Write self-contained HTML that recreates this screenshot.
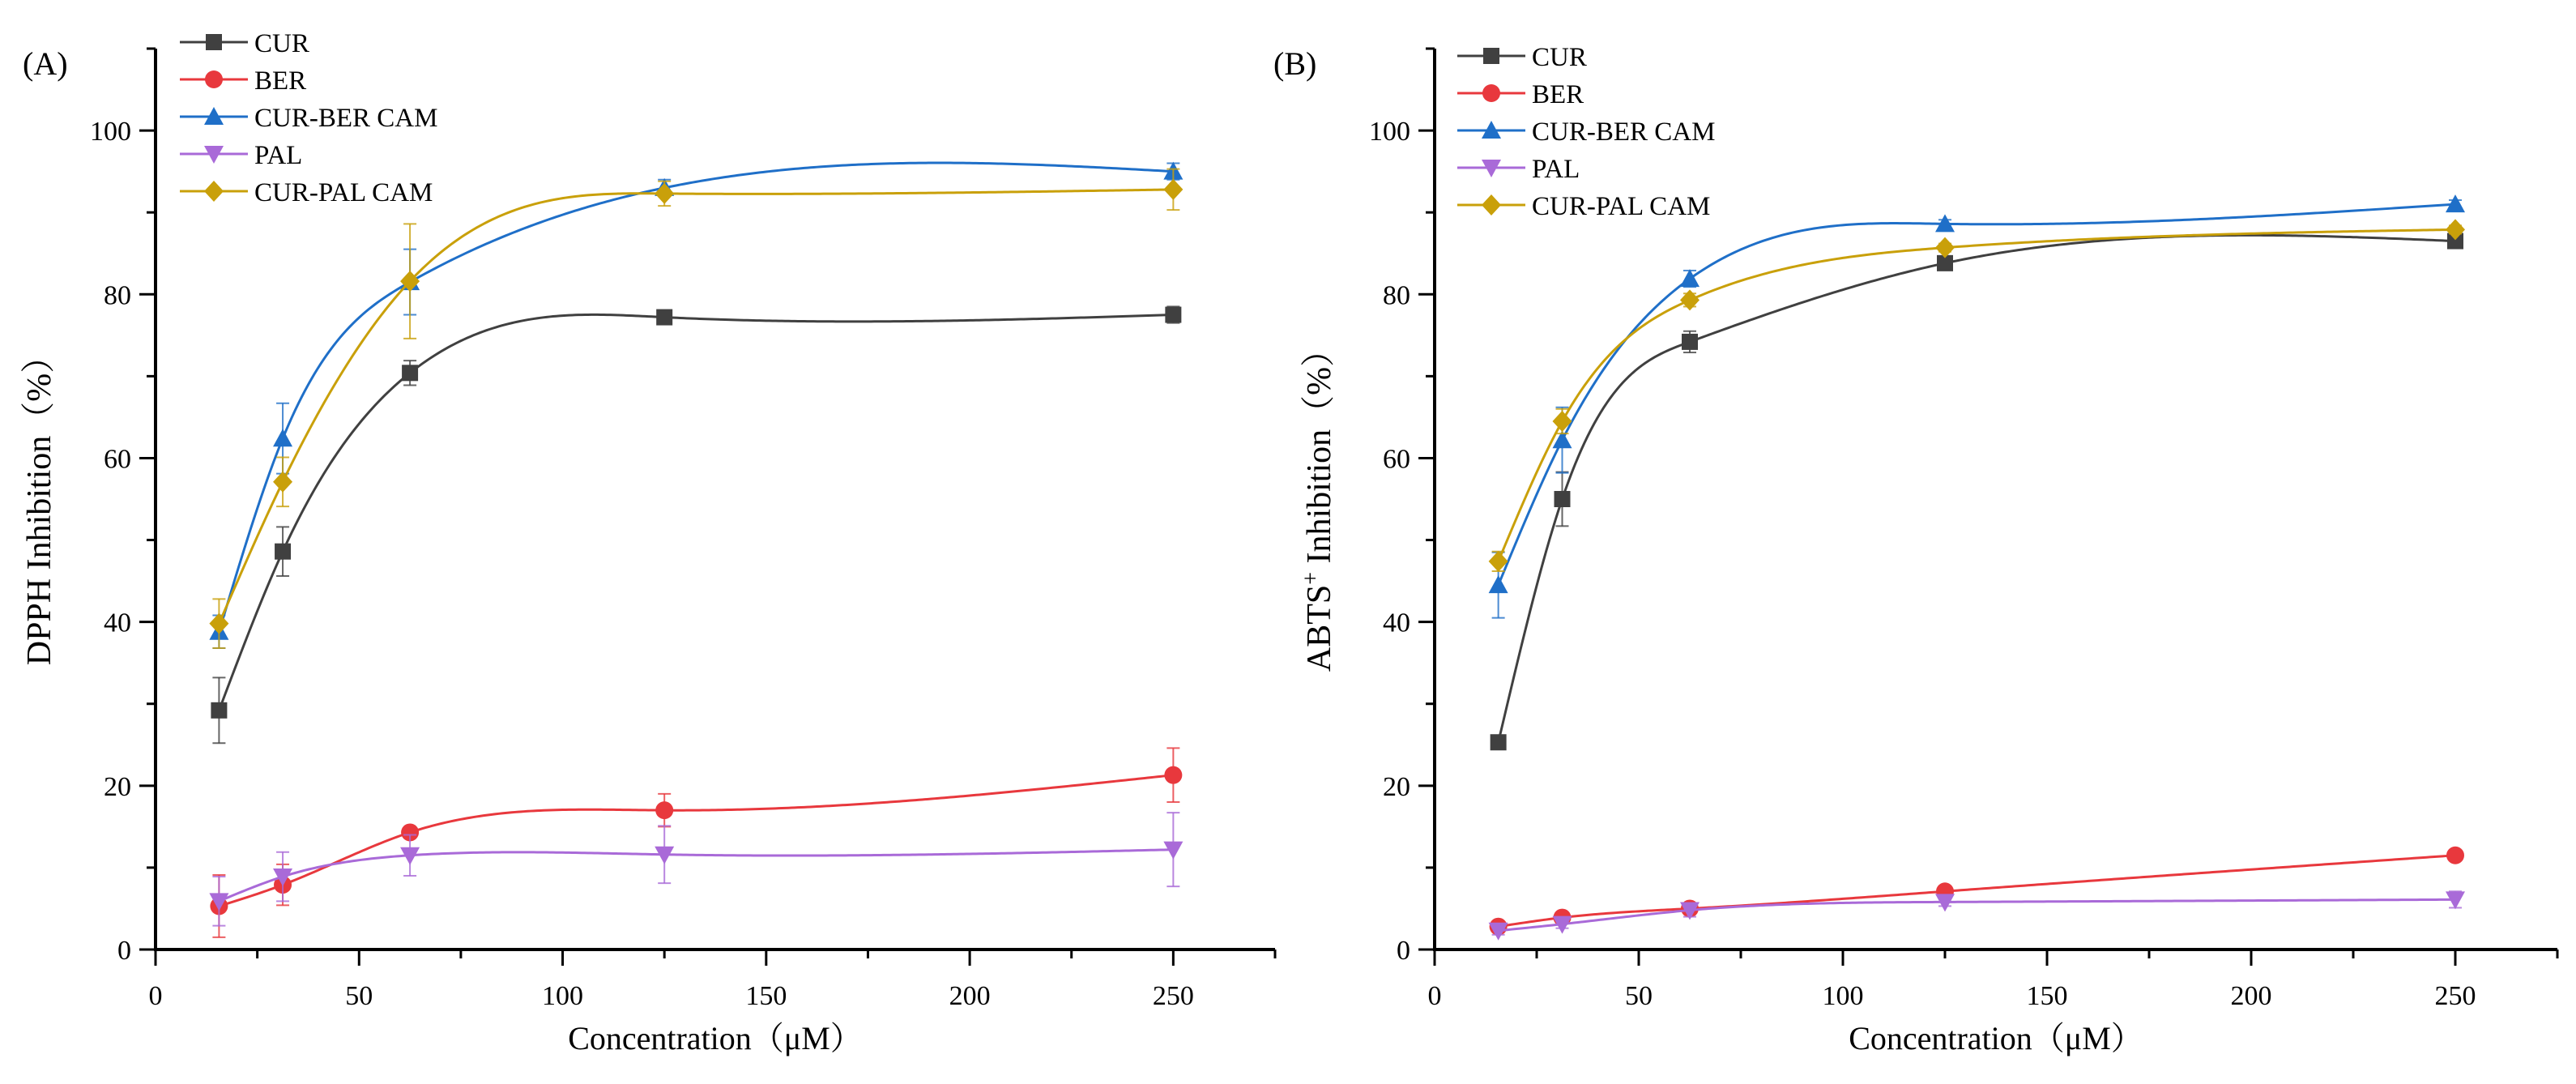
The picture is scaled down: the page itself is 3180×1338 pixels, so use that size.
<!DOCTYPE html>
<html><head><meta charset="utf-8">
<style>
html,body{margin:0;padding:0;background:#fff;}
svg{display:block;font-family:"Liberation Serif","Noto Serif CJK SC",serif;}
</style></head>
<body>
<svg id="chart" width="3180" height="1338" viewBox="0 0 3180 1338" xmlns="http://www.w3.org/2000/svg">
<rect width="3180" height="1338" fill="#fff"/>
</svg>
<script>
const concentrations = [15.6, 31.25, 62.5, 125, 250];
const seriesNames = ["CUR","BER","CUR-BER CAM","PAL","CUR-PAL CAM"];
const xTicks = [0,50,100,150,200,250];
const yTicks = [0,20,40,60,80,100];
// Panel A: DPPH
const dpphCUR = [29.2, 48.6, 70.4, 77.2, 77.5];
const dpphCURerr = [4, 3, 1.5, 0.5, 1];
const dpphBER = [5.3, 7.9, 14.3, 17.0, 21.3];
const dpphBERerr = [3.8, 2.5, 0.5, 2, 3.3];
const dpphCURBER = [38.8, 62.4, 81.5, 93.0, 95.0];
const dpphCURBERerr = [2, 4.3, 4, 1, 1];
const dpphPAL = [5.9, 8.9, 11.5, 11.6, 12.2];
const dpphPALerr = [3, 3, 2.5, 3.5, 4.5];
const dpphCURPAL = [39.8, 57.1, 81.6, 92.3, 92.8];
const dpphCURPALerr = [3, 3, 7, 1.5, 2.5];
// Panel B: ABTS
const abtsCUR = [25.3, 55.0, 74.2, 83.8, 86.5];
const abtsCURerr = [0.8, 3.3, 1.3, 0.5, 0.5];
const abtsBER = [2.8, 3.9, 5.0, 7.1, 11.5];
const abtsBERerr = [0.3, 0.3, 0.3, 0.4, 0.4];
const abtsCURBER = [44.5, 62.2, 81.9, 88.6, 91.0];
const abtsCURBERerr = [4, 4, 1, 0.5, 0.5];
const abtsPAL = [2.3, 3.1, 4.8, 5.8, 6.1];
const abtsPALerr = [0.5, 0.5, 0.8, 0.5, 1];
const abtsCURPAL = [47.4, 64.5, 79.3, 85.7, 87.9];
const abtsCURPALerr = [1.2, 1.5, 0.8, 0.5, 0.5];

const colors = ["#404040","#e8383d","#1f6fc8","#a96ad8","#c9a00a"];
const markers = ["square","circle","up","down","diamond"];
const NS = "http://www.w3.org/2000/svg";
const svg = document.getElementById("chart");
function mk(tag, attrs, parent){const e=document.createElementNS(NS,tag);for(const k in attrs)e.setAttribute(k,attrs[k]);(parent||svg).appendChild(e);return e;}

function marker(g,type,x,y,c){
  const s=10;let e;
  if(type==="square") e=mk("rect",{x:x-s,y:y-s,width:2*s,height:2*s,fill:c},g);
  else if(type==="circle") e=mk("circle",{cx:x,cy:y,r:s+1,fill:c},g);
  else if(type==="up") e=mk("polygon",{points:`${x},${y-s-2} ${x+s+2},${y+s} ${x-s-2},${y+s}`,fill:c},g);
  else if(type==="down") e=mk("polygon",{points:`${x},${y+s+2} ${x+s+2},${y-s} ${x-s-2},${y-s}`,fill:c},g);
  else e=mk("polygon",{points:`${x},${y-s-3} ${x+s+2},${y} ${x},${y+s+3} ${x-s-2},${y}`,fill:c},g);
  return e;
}
// natural cubic spline through data (x in data units)
function naturalSpline(xs, ys){
  const n=xs.length, h=[], a=[], l=[1], mu=[0], z=[0], c=new Array(n).fill(0), b=[], d=[];
  for(let i=0;i<n-1;i++) h.push(xs[i+1]-xs[i]);
  for(let i=1;i<n-1;i++) a[i]=3/h[i]*(ys[i+1]-ys[i])-3/h[i-1]*(ys[i]-ys[i-1]);
  for(let i=1;i<n-1;i++){l[i]=2*(xs[i+1]-xs[i-1])-h[i-1]*mu[i-1];mu[i]=h[i]/l[i];z[i]=(a[i]-h[i-1]*z[i-1])/l[i];}
  l[n-1]=1;z[n-1]=0;
  for(let j=n-2;j>=0;j--){c[j]=z[j]-mu[j]*c[j+1];b[j]=(ys[j+1]-ys[j])/h[j]-h[j]*(c[j+1]+2*c[j])/3;d[j]=(c[j+1]-c[j])/(3*h[j]);}
  return function(x){let j=n-2;for(let i=0;i<n-1;i++){if(x<=xs[i+1]){j=i;break;}}
    const t=x-xs[j];return ys[j]+b[j]*t+c[j]*t*t+d[j]*t*t*t;};
}

function panel(opt){
  const x0=opt.x0, xEnd=opt.xEnd, y0=1172, yTop=60;
  const sx=v=>x0+(v/275)*(xEnd-x0);
  const sy=v=>y0-(v/110)*(y0-yTop);
  const g=mk("g",{});
  
  
  const ax=mk("line",{x1:x0,y1:y0,x2:xEnd,y2:y0,stroke:"#000","stroke-width":4},g);
  
  const ay=mk("line",{x1:x0,y1:y0+2,x2:x0,y2:yTop,stroke:"#000","stroke-width":4},g);
  
  for(let v=0;v<=275;v+=25){const major=v%50===0;
    mk("line",{x1:sx(v),y1:y0,x2:sx(v),y2:y0+(major?20:11),stroke:"#000","stroke-width":3},g);}
  for(let v=0;v<=110;v+=10){const major=v%20===0;
    mk("line",{x1:x0,y1:sy(v),x2:x0-(major?20:11),y2:sy(v),stroke:"#000","stroke-width":3},g);}
  xTicks.forEach(v=>{const t=mk("text",{x:sx(v),y:y0+68,"font-size":34,"text-anchor":"middle"},g);t.textContent=v;
    });
  yTicks.forEach(v=>{const t=mk("text",{x:x0-30,y:sy(v)+12,"font-size":34,"text-anchor":"end"},g);t.textContent=v;
    });
  const xt=mk("text",{x:(x0+xEnd)/2,y:1295,"font-size":40,"text-anchor":"middle"},g);
  xt.textContent="Concentration（μM）";
  
  const yt=mk("text",{x:0,y:0,"font-size":42,"text-anchor":"middle",transform:`translate(${opt.ytx},620) rotate(-90)`},g);
  yt.innerHTML=opt.ytitle;
  
  const pl=mk("text",{x:opt.lx,y:opt.ly,"font-size":40},g);pl.textContent=opt.label;
  
  opt.series.forEach((s,i)=>{
    const sg=mk("g",{},g);
    
    
    const f=naturalSpline(concentrations,s.v);
    const lo=concentrations[0],hi=concentrations[concentrations.length-1];
    let d="";
    for(let k=0;k<=300;k++){const xv=lo+(hi-lo)*k/300;d+=(k?"L":"M")+sx(xv).toFixed(2)+","+sy(f(xv)).toFixed(2);}
    mk("path",{d:d,fill:"none",stroke:colors[i],"stroke-width":3},sg);
    concentrations.forEach((c,j)=>{
      const x=sx(c),yh=sy(s.v[j]+s.e[j]),yl=sy(s.v[j]-s.e[j]);
      mk("line",{x1:x,y1:yh,x2:x,y2:yl,stroke:colors[i],"stroke-width":2,opacity:0.8},sg);
      mk("line",{x1:x-8,y1:yh,x2:x+8,y2:yh,stroke:colors[i],"stroke-width":2,opacity:0.8},sg);
      mk("line",{x1:x-8,y1:yl,x2:x+8,y2:yl,stroke:colors[i],"stroke-width":2,opacity:0.8},sg);
      const m=marker(sg,markers[i],x,sy(s.v[j]),colors[i]);
      
    });
  });
  const lg=mk("g",{},g);
  
  seriesNames.forEach((n,i)=>{
    const y=opt.legY+i*opt.legDy;
    const eg=mk("g",{},lg);
    
    mk("line",{x1:opt.legX,y1:y,x2:opt.legX+84,y2:y,stroke:colors[i],"stroke-width":3},eg);
    marker(eg,markers[i],opt.legX+42,y,colors[i]);
    const t=mk("text",{x:opt.legX+92,y:y+12,"font-size":33},eg);t.textContent=n;
  });
}

panel({name:"panel-a-dpph",x0:192,xEnd:1574,ytx:62,ytitle:"DPPH Inhibition（%）",label:"(A)",lx:28,ly:92,legX:222,legY:52,legDy:46,
  series:[{v:dpphCUR,e:dpphCURerr},{v:dpphBER,e:dpphBERerr},{v:dpphCURBER,e:dpphCURBERerr},{v:dpphPAL,e:dpphPALerr},{v:dpphCURPAL,e:dpphCURPALerr}]});
panel({name:"panel-b-abts",x0:1771,xEnd:3157,ytx:1642,ytitle:"ABTS<tspan baseline-shift=\"super\" font-size=\"28\">+</tspan> Inhibition（%）",label:"(B)",lx:1572,ly:92,legX:1799,legY:69,legDy:46,
  series:[{v:abtsCUR,e:abtsCURerr},{v:abtsBER,e:abtsBERerr},{v:abtsCURBER,e:abtsCURBERerr},{v:abtsPAL,e:abtsPALerr},{v:abtsCURPAL,e:abtsCURPALerr}]});
</script>
</body></html>
